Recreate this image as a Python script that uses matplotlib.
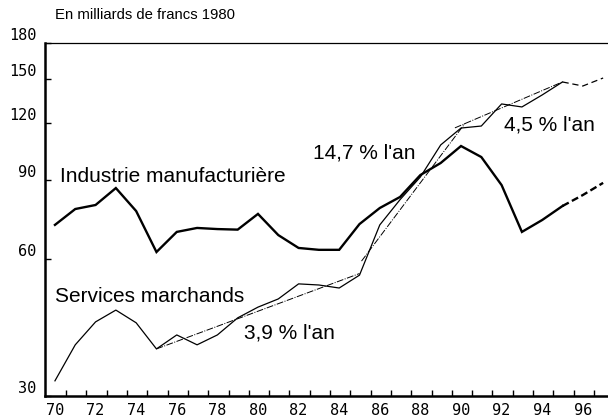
import numpy as np
import matplotlib
matplotlib.use("Agg")
import matplotlib.pyplot as plt
from matplotlib.ticker import FixedLocator, NullLocator

# valeur ajoutee en milliards de francs 1980, annees 1970 a 1995
annees = list(range(70, 96))
industrie = [71.5, 77.5, 79.1, 86.2, 76.7, 62.3, 69.0, 70.4, 70.0, 69.8,
             75.6, 67.9, 63.6, 63.0, 63.0, 71.8, 77.9, 82.4, 92.1, 97.9,
             106.7, 100.9, 87.5, 69.0, 73.3, 78.7]
services = [32.4, 38.9, 43.7, 46.4, 43.5, 38.1, 40.9, 38.9, 40.9, 44.6,
            47.1, 49.1, 53.0, 52.7, 51.9, 55.4, 71.5, 81.3, 91.2, 107.3,
            116.9, 118.1, 132.1, 130.1, 138.3, 147.7]

# previsions 1995-1997 (en tirets)
annees_prev = [95, 96, 97]
industrie_prev = [78.7, 83.2, 88.5]
services_prev = [147.7, 144.7, 150.7]

# tendances de croissance des services : debut, fin, valeur de depart, taux annuel
tend_debut = [75, 85.1, 89.7]
tend_fin = [85, 90.2, 95]
tend_depart = [38.1, 59.5, 117.0]
tend_taux = [3.9, 14.7, 4.5]
tend_texte_pos = [(79.3, 41.3), (82.7, 103.0), (92.1, 118.7)]

y_ticks = [30, 60, 90, 120, 150, 180]
x_labels = list(range(70, 97, 2))


def main():
    fig = plt.figure(figsize=(6.08, 4.17), dpi=100)
    ax = fig.add_axes([45 / 608, 21 / 417, 563 / 608, 353 / 417])

    ax.plot(annees, industrie, color="black", lw=1.7, solid_joinstyle="miter")
    ax.plot(annees_prev, industrie_prev, color="black", lw=1.7, ls=(0, (3, 1.5)))
    ax.plot(annees, services, color="black", lw=0.9)
    ax.plot(annees_prev, services_prev, color="black", lw=0.9, ls=(0, (5, 3)))

    for t0, t1, v0, taux, pos in zip(tend_debut, tend_fin, tend_depart,
                                     tend_taux, tend_texte_pos):
        t = np.array([t0, t1])
        v = v0 * (1 + taux / 100) ** (t - t0)
        ax.plot(t, v, color="black", lw=0.7, ls=(0, (7, 1.5, 1, 1.5)))
        texte = "{:.1f}".format(taux).replace(".", ",") + " % l'an"
        ax.text(pos[0], pos[1], texte, fontsize=15, family="Liberation Sans",
                ha="left", va="center")

    ax.text(70.25, 91.2, "Industrie manufacturière", fontsize=15,
            family="Liberation Sans", ha="left", va="center")
    ax.text(70.0, 49.6, "Services marchands", fontsize=15,
            family="Liberation Sans", ha="left", va="center")
    fig.text(55 / 608, 1 - 15 / 417, "En milliards de francs 1980", fontsize=10.7,
             family="Liberation Sans", ha="left", va="center")

    ax.set_yscale("log")
    ax.set_ylim(30, 180)
    ax.set_xlim(69.51, 97.24)
    ax.yaxis.set_major_locator(FixedLocator(y_ticks))
    ax.yaxis.set_minor_locator(NullLocator())
    ax.set_yticklabels([str(v) for v in y_ticks])
    ax.set_xticks(x_labels)
    ax.set_xticklabels([str(v) for v in x_labels])
    ax.xaxis.set_minor_locator(FixedLocator(np.arange(70, 97) + 0.55))

    ax.tick_params(axis="y", which="major", direction="in", length=4, width=1,
                   pad=6, labelsize=11)
    ax.tick_params(axis="x", which="major", length=0, pad=5, labelsize=11)
    ax.tick_params(axis="x", which="minor", direction="in", length=4, width=1)
    for lab in ax.get_yticklabels():
        lab.set_verticalalignment("bottom")
        lab.set_family("DejaVu Sans Mono")
    for lab in ax.get_xticklabels():
        lab.set_family("DejaVu Sans Mono")

    ax.spines["right"].set_visible(False)
    ax.spines["top"].set_linewidth(0.9)
    ax.spines["left"].set_linewidth(1.8)
    ax.spines["bottom"].set_linewidth(1.8)

    fig.savefig("out.png", dpi=100)


if __name__ == "__main__":
    main()
